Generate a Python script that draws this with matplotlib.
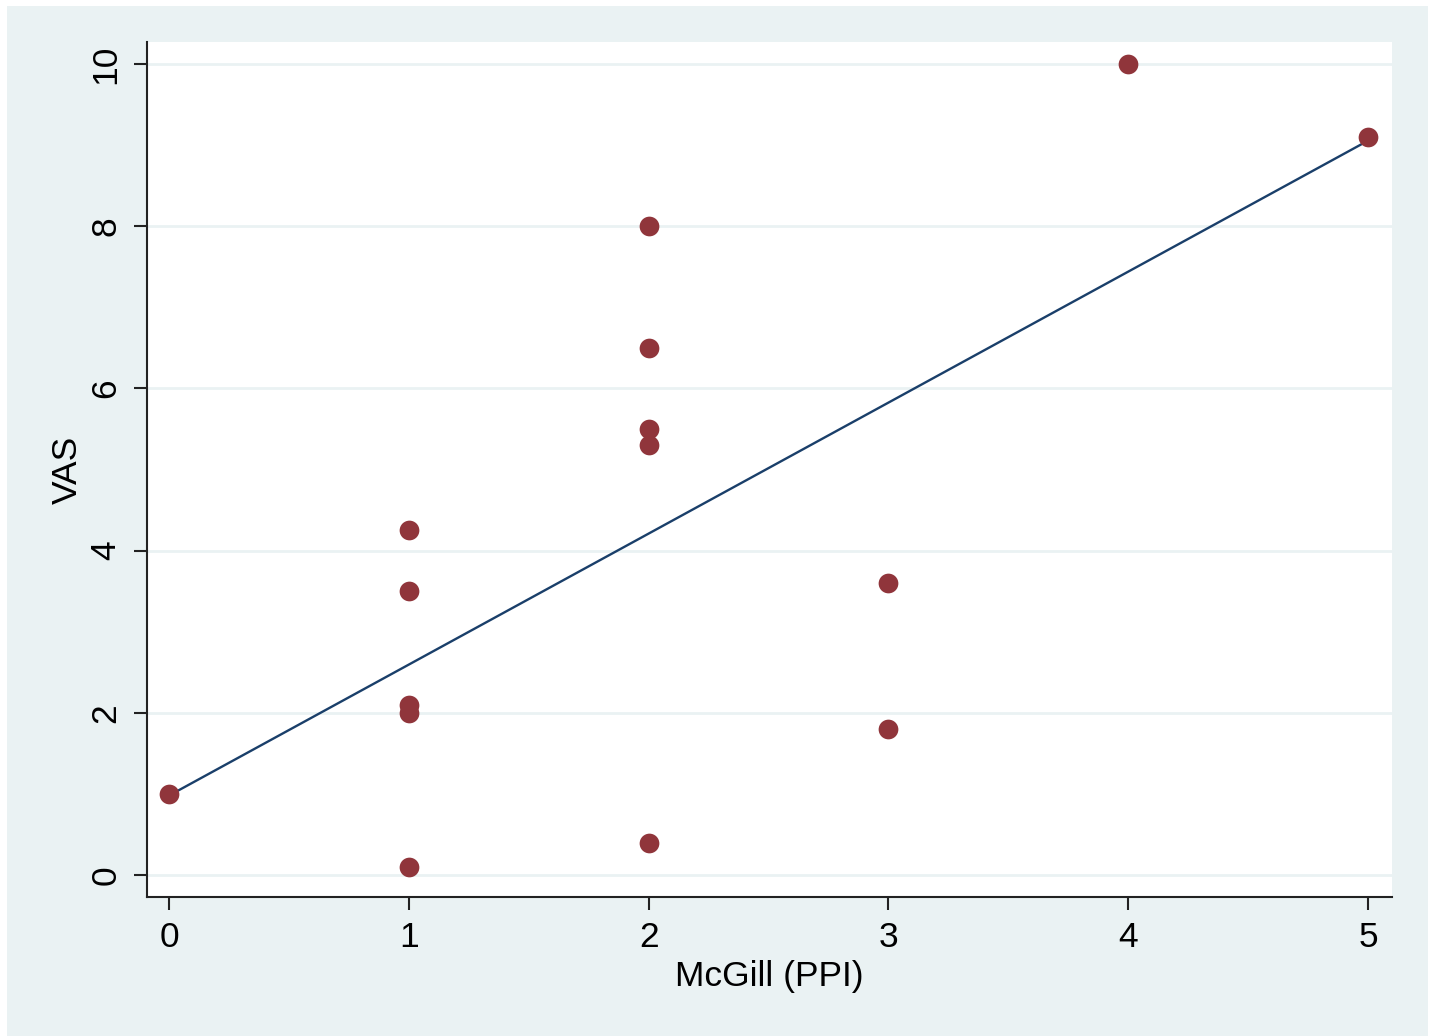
import matplotlib.pyplot as plt
from matplotlib.patches import Rectangle
import numpy as np

mcgill = [0, 1, 1, 1, 1, 1, 2, 2, 2, 2, 2, 3, 3, 4, 5]
vas = [1.0, 4.25, 3.5, 2.1, 2.0, 0.1, 8.0, 6.5, 5.5, 5.3, 0.4, 3.6, 1.8, 10.0, 9.1]
xticks = [0, 1, 2, 3, 4, 5]
yticks = [0, 2, 4, 6, 8, 10]

plt.rcParams['font.family'] = ['Liberation Sans', 'DejaVu Sans']

bg = '#eaf2f3'
fig = plt.figure(figsize=(14.31, 10.36), dpi=100)
fig.patch.set_facecolor('white')
fig.add_artist(Rectangle((7 / 1431, 0), 1421 / 1431, 1030 / 1036,
                         transform=fig.transFigure, facecolor=bg,
                         edgecolor='none', zorder=-10))

ax = fig.add_axes([147 / 1431, 139 / 1036, 1245 / 1431, 855 / 1036])
ax.set_facecolor('white')

x = np.array(mcgill)
y = np.array(vas)
b, a = np.polyfit(x, y, 1)
xs = np.array([x.min(), x.max()])
ax.plot(xs, a + b * xs, color='#1a3f6a', lw=1.7, zorder=3)
ax.plot(x, y, 'o', color='#90353b', markersize=14.2, markeredgewidth=0, zorder=4)

ax.set_xlim(-0.092, 5.1)
ax.set_ylim(-0.27, 10.27)
ax.set_xticks(xticks)
ax.set_yticks(yticks)
ax.grid(axis='y', color=bg, lw=2)
ax.set_axisbelow(True)

for s in ['top', 'right']:
    ax.spines[s].set_visible(False)
for s in ['left', 'bottom']:
    ax.spines[s].set_color('#222222')
    ax.spines[s].set_linewidth(1.5)

ax.tick_params(axis='both', length=9.5, width=1.5, color='#222222',
               labelsize=25.5, pad=8)
plt.setp(ax.get_yticklabels(), rotation=90, va='center')

ax.set_xlabel('McGill (PPI)', fontsize=25.5, labelpad=4)
ax.set_ylabel('VAS', fontsize=25.5, labelpad=4)

fig.savefig('out.png', dpi=100)
